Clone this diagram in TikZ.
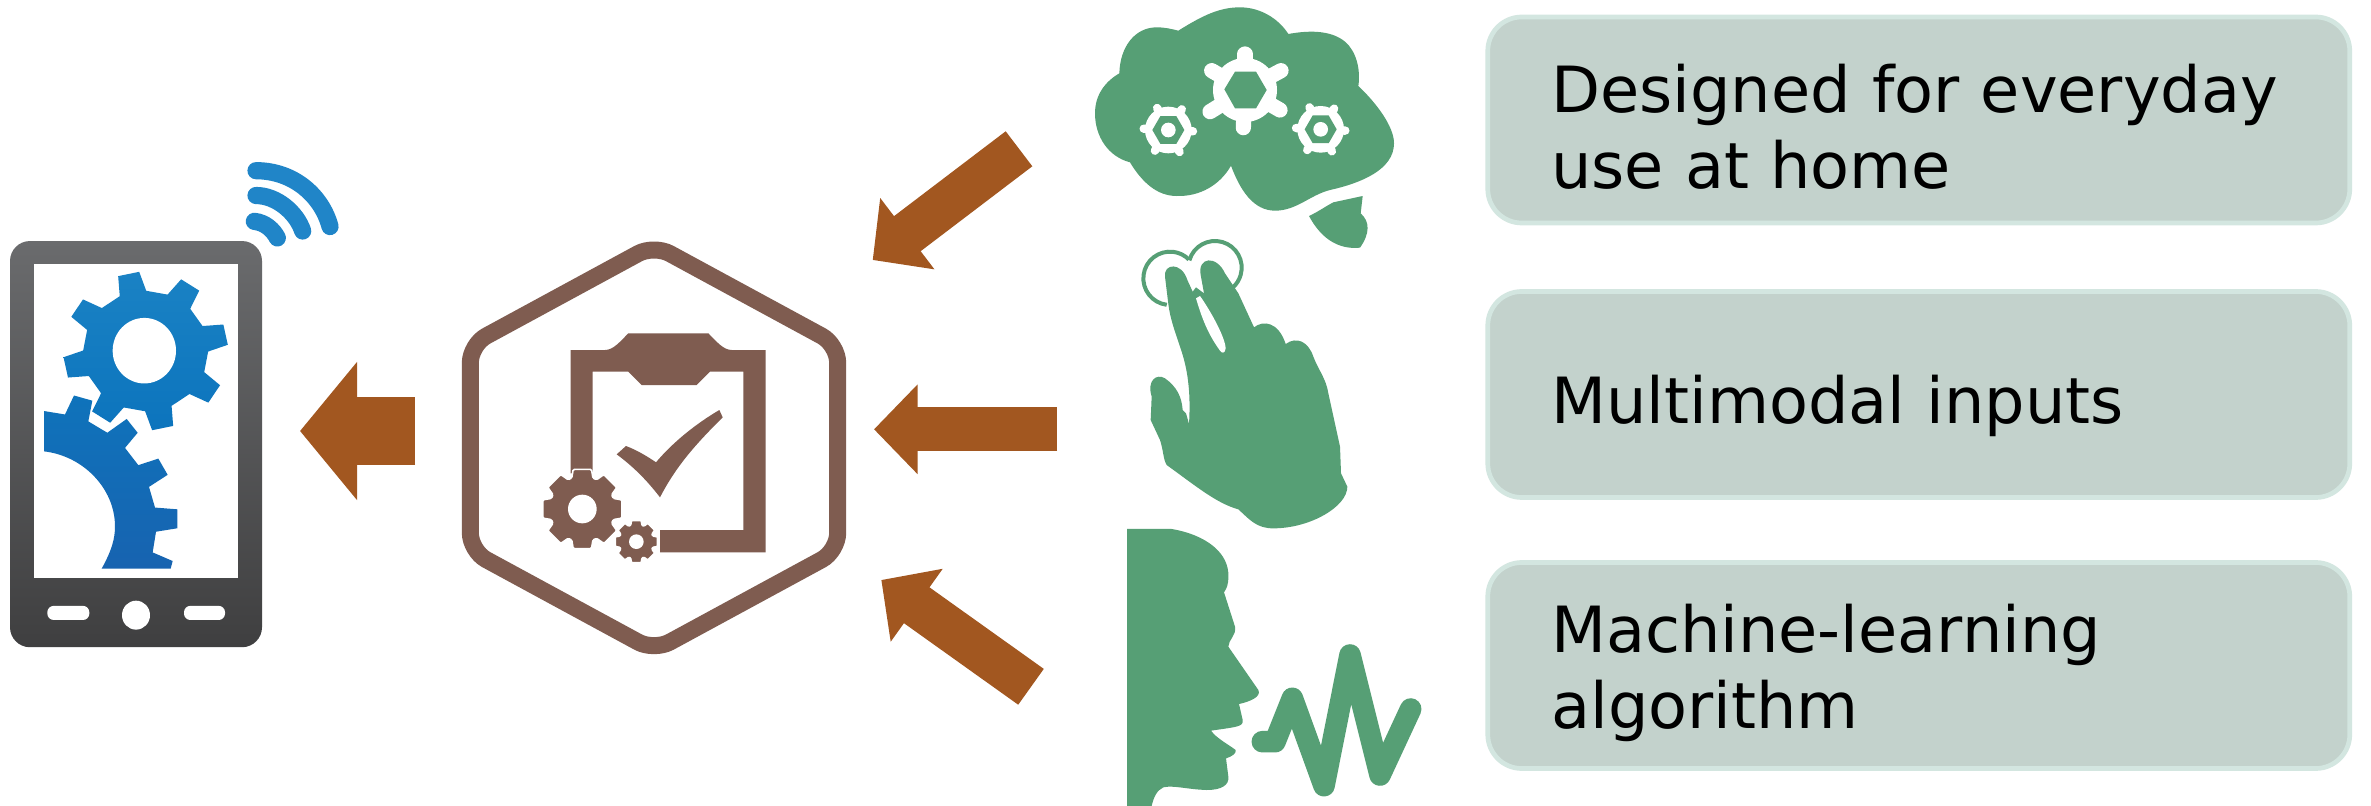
\documentclass[tikz,border=0pt]{standalone}
\usepackage{fontspec}
\setmainfont{DejaVu Sans}
\usetikzlibrary{arrows.meta}
\definecolor{arrowc}{HTML}{A25720}
\definecolor{hexc}{HTML}{7F5C50}
\definecolor{greenc}{HTML}{569F75}
\definecolor{boxfill}{HTML}{C3D2CC}
\definecolor{boxedge}{HTML}{D3E6E0}
\definecolor{wific}{HTML}{2085C8}
\newcommand{\gearteeth}[6]{% outer r, inner r, teeth, phase, base half-angle, tip half-angle
 ({#4-#5}:#2) \foreach \k in {1,...,#3} { -- ({#4+(\k-1)*360/#3-#5}:#2) -- ({#4+(\k-1)*360/#3-#6}:#1) -- ({#4+(\k-1)*360/#3+#6}:#1) -- ({#4+(\k-1)*360/#3+#5}:#2) } -- cycle}
\tikzset{
  infobox/.style={draw=boxedge,fill=boxfill,line width=2.35pt,rounded corners=17pt,
    minimum width=431pt,minimum height=103pt,inner xsep=0pt,inner ysep=0pt,outer sep=0pt,
    text width=367.5pt,align=left,font=\fontsize{31.85}{38}\selectfont,text=black},
  bigarrow/.style={draw=arrowc,line width=22pt,-{Triangle[length=21.75pt,width=43.5pt,fill=arrowc]}},
  zoomed/.style={x=0.16667pt,y=-0.16667pt},
  zoomedphone/.style={x=0.16667pt,y=-0.17241pt},
  ring/.style={draw=greenc,line width=2pt},
  wifiarc/.style={draw=wific,line width=8.6pt,line cap=round},
}
\begin{document}
\begin{tikzpicture}[x=0.5pt,y=-0.5pt]
\useasboundingbox (0,0) rectangle (2371,806);
\fill[white] (0,0) rectangle (2371,806);

% phone
\begin{scope}[shift={(0,130)},zoomedphone]
  \shade[top color={rgb,255:red,106;green,107;blue,109},bottom color={rgb,255:red,63;green,63;blue,64},rounded corners=10pt] (30,322) rectangle (786,1500);
  \fill[white] (103,390) rectangle (713,1298);
  \fill[white,rounded corners=3.2pt] (142,1380) rectangle (268,1421);
  \fill[white,rounded corners=3.2pt] (552,1380) rectangle (675,1421);
  \fill[white] (408,1407) circle (42);
  \draw[wifiarc] (768,118) .. controls (880,118) and (965,190) .. (990,280);
  \draw[wifiarc] (768,190) .. controls (830,190) and (890,240) .. (908,293);
  \draw[wifiarc] (763,265) .. controls (795,268) and (820,290) .. (832,313);
  \shade[shift={(437,641)},xscale=1.03,yscale=0.96,top color={rgb,255:red,26;green,130;blue,196},bottom color={rgb,255:red,12;green,116;blue,189}] \gearteeth{240}{182}{8}{-12}{12.5}{7.5};
  \fill[white] (433,640) circle (95);
  \shade[top color={rgb,255:red,15;green,115;blue,187},bottom color={rgb,255:red,23;green,99;blue,176}]
    (132,815) -- (195,825) -- (222,770) -- (277,785) -- (265,845) -- (322,878) -- (380,838) -- (413,878) -- (375,922) -- (415,972) -- (475,953) -- (503,1000) -- (447,1035) -- (465,1095) -- (532,1100) -- (532,1155) -- (468,1165) -- (458,1225) -- (518,1250) -- (512,1272) -- (305,1272)
    .. controls (335,1220) and (345,1185) .. (345,1150) .. controls (345,1040) and (250,945) .. (132,932) -- cycle;
\end{scope}

% hexagon with clipboard
\begin{scope}[shift={(440,220)},zoomed]
  \draw[hexc,line width=8.5pt,rounded corners=9pt,line join=round] (91,374) -- (642,75) -- (1193,374) -- (1193,993) -- (642,1292) -- (91,993) -- cycle;
  \fill[hexc] (392,390) -- (495,390) .. controls (520,390) and (540,365) .. (565,340) -- (805,340) .. controls (830,365) and (850,390) .. (875,390) -- (977,390) -- (977,997) -- (660,997) -- (660,930) -- (910,930) -- (910,455) -- (810,455) -- (770,495) -- (605,495) -- (565,455) -- (458,455) -- (458,760) -- (392,760) -- cycle;
  \fill[hexc] (530,703) -- (558,678) .. controls (590,690) and (620,708) .. (648,727) .. controls (700,665) and (770,610) .. (838,570) -- (848,592) .. controls (770,670) and (710,735) .. (660,832) .. controls (620,780) and (580,740) .. (530,703) -- cycle;
  \filldraw[hexc,draw=white,line width=0.8pt,rounded corners=0.6pt,shift={(427,867)}] \gearteeth{122}{98}{8}{0}{19}{13};
  \fill[white] (427,867) circle (43);
  \filldraw[hexc,draw=white,line width=0.8pt,rounded corners=0.4pt,shift={(589,965)}] \gearteeth{65}{52}{8}{0}{19}{13};
  \fill[white] (589,965) circle (22);
\end{scope}

% brain
\begin{scope}[shift={(1070,0)},zoomed]
  \fill[greenc] (148,220) .. controls (150,140) and (195,82) .. (260,82) .. controls (285,82) and (305,87) .. (325,92)
    .. controls (400,45) and (450,22) .. (510,22) .. controls (570,22) and (625,55) .. (655,102)
    .. controls (710,92) and (780,88) .. (825,125) .. controls (860,155) and (872,210) .. (865,258)
    .. controls (920,310) and (972,380) .. (972,430) .. controls (972,510) and (870,550) .. (780,570)
    .. controls (720,585) and (680,632) .. (615,632) .. controls (550,632) and (510,570) .. (483,497)
    .. controls (450,555) and (390,590) .. (320,588) .. controls (260,588) and (215,545) .. (180,487)
    .. controls (115,470) and (75,410) .. (75,340) .. controls (75,285) and (105,245) .. (148,220) -- cycle;
  \fill[greenc] (717,648) .. controls (745,635) and (770,617) .. (790,607) -- (878,588) -- (872,640) .. controls (900,665) and (900,700) .. (870,743) .. controls (800,750) and (750,710) .. (717,648) -- cycle;
  % large gear
  \foreach \ex/\ey in {525/162, 520/383, 633/212, 425/212, 630/330, 420/335}
    \draw[white,line width=7.6pt,line cap=round] (525,270) -- (\ex,\ey);
  \fill[white] (525,270) circle (96);
  \fill[greenc] (463,268) -- (495,215) -- (558,215) -- (590,270) -- (558,325) -- (495,325) -- cycle;
  % small gears
  \foreach \cx/\cy in {295/390, 752/388}{
    \foreach \a in {0,60,...,300}
      \draw[white,line width=4.2pt,line cap=round] (\cx,\cy) -- ++({\a+3}:74);
    \fill[white] (\cx,\cy) circle (70);
    \fill[greenc,shift={(\cx,\cy)}] (0:48) -- (60:48) -- (120:48) -- (180:48) -- (240:48) -- (300:48) -- cycle;
    \fill[white] (\cx,\cy) circle (22);
  }
\end{scope}

% hand
\begin{scope}[shift={(1110,230)},zoomed]
  \draw[ring] (180,145) ++(97:80) arc[start angle=97,end angle=315,radius=80];
  \draw[ring] (315,113) ++(196:80) arc[start angle=196,end angle=409,radius=80];
  \fill[greenc] (175,222) -- (165,140) .. controls (160,100) and (215,95) .. (232,150) -- (248,185) -- (258,172) -- (282,190) -- (272,135) .. controls (262,80) and (320,75) .. (345,130) -- (385,190) -- (432,292)
    .. controls (460,270) and (505,275) .. (527,342)
    .. controls (560,318) and (595,335) .. (610,380) .. controls (625,420) and (648,445) .. (655,490) -- (690,650) -- (693,730) -- (712,770)
    .. controls (712,830) and (600,895) .. (490,895) .. controls (440,895) and (420,870) .. (385,838)
    .. controls (320,820) and (260,770) .. (170,705) .. controls (160,690) and (160,660) .. (150,630) -- (122,570) -- (125,500)
    .. controls (110,450) and (140,430) .. (165,445) .. controls (200,470) and (215,500) .. (218,540) -- (228,550) -- (237,582)
    .. controls (242,500) and (236,430) .. (215,365) .. controls (195,305) and (180,265) .. (175,222) -- cycle;
  \fill[white] (258,205) -- (270,198) .. controls (300,240) and (345,320) .. (347,355) .. controls (345,372) and (335,370) .. (330,362) .. controls (300,320) and (280,280) .. (258,205) -- cycle;
\end{scope}

% head
\begin{scope}[shift={(1110,520)},zoomed]
  \fill[greenc] (51,27) -- (185,27) .. controls (290,45) and (358,100) .. (355,170) .. controls (355,195) and (350,205) .. (342,217) -- (375,320) .. controls (380,345) and (355,360) .. (355,380) -- (445,510) .. controls (455,530) and (420,545) .. (387,552) -- (398,600) .. controls (400,620) and (385,620) .. (303,632) .. controls (320,655) and (350,670) .. (377,690) .. controls (380,700) and (365,710) .. (348,715) -- (355,770) .. controls (358,795) and (335,810) .. (290,810) .. controls (230,808) and (190,795) .. (160,802) .. controls (140,810) and (130,835) .. (125,858) -- (51,858) -- cycle;
  \draw[greenc,line width=10.8pt,line cap=round,line join=round] (457,665) -- (495,665) -- (547,535) -- (642,797) -- (720,405) -- (810,765) -- (902,567);
\end{scope}

% connectors
\coordinate (toPhoneS) at (415,431);
\coordinate (toPhoneE) at (300,431);
\coordinate (fromBrain) at (1019,148.8);
\coordinate (brainE) at (872.7,260);
\coordinate (fromHand) at (1057,429.3);
\coordinate (handE) at (874,429.3);
\coordinate (fromHead) at (1031,686.8);
\coordinate (headE) at (881.3,580);
\draw[draw=arrowc,line width=34pt,-{Triangle[length=28.5pt,width=67.5pt,fill=arrowc]}] (toPhoneS) -- (toPhoneE);
\draw[bigarrow] (fromBrain) -- (brainE);
\draw[bigarrow] (fromHand) -- (handE);
\draw[bigarrow] (fromHead) -- (headE);

% boxes
\node[infobox,text height=30.5pt] (box1) at (1918.75,120) {Designed for everyday\\use at home};
\node[infobox,text height=36pt] (box2) at (1918.75,394.5) {Multimodal inputs};
\node[infobox,text height=32pt] (box3) at (1918.75,665.5) {Machine-learning\\algorithm};
\end{tikzpicture}
\end{document}
